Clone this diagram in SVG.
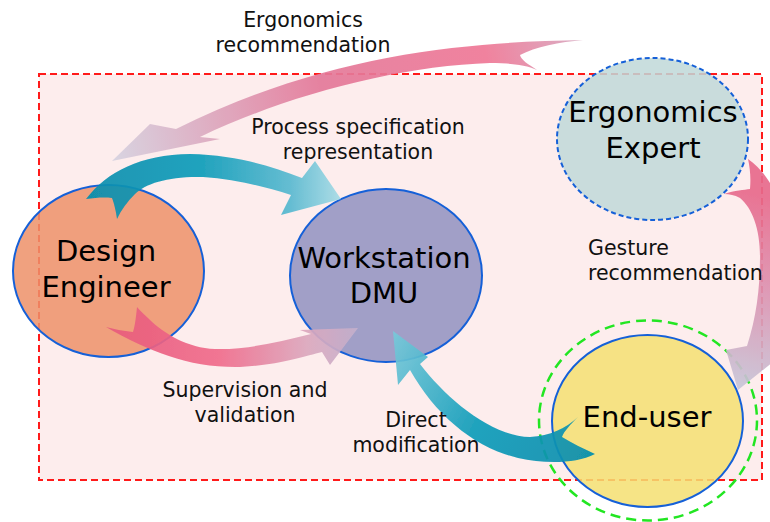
<svg xmlns="http://www.w3.org/2000/svg" width="770" height="522" viewBox="0 0 770 522">
<style>
.lbl{font-family:"DejaVu Sans","Liberation Sans",sans-serif;font-size:20.5px;fill:#111;text-anchor:middle}
.big{font-family:"DejaVu Sans","Liberation Sans",sans-serif;font-size:29px;fill:#000;text-anchor:middle}
.node{stroke:#1560d8;stroke-width:2;fill-opacity:0.86}
.arrow{opacity:0.92;filter:url(#soft)}
</style>
<defs>
<filter id="soft" x="-5%" y="-5%" width="110%" height="110%"><feGaussianBlur stdDeviation="0.6"/></filter>
<linearGradient id="gPink1" gradientUnits="userSpaceOnUse" x1="583" y1="45" x2="113" y2="158">
<stop offset="0" stop-color="#d8a8c0"/><stop offset="0.2" stop-color="#ef7896"/><stop offset="0.55" stop-color="#e47a9a"/><stop offset="1" stop-color="#d6d2e0"/>
</linearGradient>
<linearGradient id="gPink3" gradientUnits="userSpaceOnUse" x1="107" y1="330" x2="357" y2="335">
<stop offset="0" stop-color="#e85a7c"/><stop offset="0.45" stop-color="#f06c8c"/><stop offset="0.8" stop-color="#dca8be"/><stop offset="1" stop-color="#c4b0cc"/>
</linearGradient>
<linearGradient id="gPink5" gradientUnits="userSpaceOnUse" x1="780" y1="200" x2="732" y2="385">
<stop offset="0" stop-color="#e86a8c"/><stop offset="0.5" stop-color="#dc94b2"/><stop offset="1" stop-color="#c8c6d8"/>
</linearGradient>
<linearGradient id="gBlue2" gradientUnits="userSpaceOnUse" x1="90" y1="200" x2="340" y2="197">
<stop offset="0" stop-color="#068eae"/><stop offset="0.45" stop-color="#0f9dba"/><stop offset="0.8" stop-color="#58b9d0"/><stop offset="1" stop-color="#a6dbe6"/>
</linearGradient>
<linearGradient id="gBlue4" gradientUnits="userSpaceOnUse" x1="593" y1="450" x2="393" y2="335">
<stop offset="0" stop-color="#068eae"/><stop offset="0.5" stop-color="#109dba"/><stop offset="1" stop-color="#78c9da"/>
</linearGradient>
</defs>

<rect x="0" y="0" width="770" height="522" fill="#ffffff"/>
<g id="frame">
<rect x="39" y="74" width="723" height="406" fill="#fdeded" stroke="#ff1a1a" stroke-width="2" stroke-dasharray="7,4"/>
</g>

<g id="design-engineer">
<ellipse class="node" cx="108.5" cy="271" rx="95.5" ry="86" fill="#ee926a"/>
<text class="big" x="106" y="261">Design</text>
<text class="big" x="106" y="297">Engineer</text>
</g>
<g id="workstation-dmu">
<ellipse class="node" cx="386" cy="275.5" rx="96" ry="86.5" fill="#9291c0"/>
<text class="big" x="384" y="268">Workstation</text>
<text class="big" x="384" y="303">DMU</text>
</g>
<g id="ergonomics-expert">
<ellipse class="node" cx="652.5" cy="139" rx="95.5" ry="81" fill="#c0d9d9" stroke-dasharray="5,3"/>
<text class="big" x="653" y="122">Ergonomics</text>
<text class="big" x="653" y="158">Expert</text>
</g>
<g id="end-user">
<ellipse cx="648" cy="420.5" rx="109" ry="100" fill="none" stroke="#22e622" stroke-width="2.5" stroke-dasharray="10,6"/>
<ellipse class="node" cx="647.5" cy="421" rx="95.5" ry="86" fill="#f5e072"/>
<text class="big" x="647" y="427">End-user</text>
</g>

<g id="connectors">
<path class="arrow" fill="url(#gPink1)" d="M583,40 C470,42 330,52 176,129 L150,124 L112,161 L220,139 L200,137 C290,94 400,66 490,63 C510,63 526,65 537,70 C528,64 521,60 520,55 C535,47 560,42 583,40 Z"/>
<path class="arrow" fill="url(#gBlue2)" d="M86,199 C108,171 140,155 190,154 C235,155 272,166 302,178 L315,161 L341,199 L281,215 L291,195 C265,187 235,179 203,177 C170,176 146,183 135,194 C127,202 121,210 117,219 C116,211 114,203 112,198 C103,197 95,198 86,199 Z"/>
<path class="arrow" fill="url(#gPink3)" d="M106,327 C150,352 190,368 240,367 C280,365 305,356 322,352 L330,365 L358,328 L300,330 L311,334 C280,342 245,350 215,349 C188,348 164,334 148,318 C144,314 140,311 137,307 C136,317 135,326 133,332 C123,331 114,329 106,327 Z"/>
<path class="arrow" fill="url(#gBlue4)" d="M393,331 L428,357 L420,364 C446,398 490,436 530,437 C550,436 566,428 578,417 C571,424 564,431 562,437 C572,443 584,449 595,454 C575,464 545,464 518,458 C475,448 436,416 410,370 L398,385 Z"/>
<path class="arrow" fill="url(#gPink5)" d="M748,159 C776,178 792,225 790,265 C788,300 782,335 778,358 L738,390 L726,350 L747,346 C756,318 760,290 760,257 C760,228 752,208 740,198 C734,195 730,194 724,194 C735,190 744,190 750,189 C751,178 750,168 748,159 Z"/>
</g>

<g id="labels">
<text class="lbl" x="303" y="27">Ergonomics</text>
<text class="lbl" x="303" y="52">recommendation</text>
<text class="lbl" x="358" y="134">Process specification</text>
<text class="lbl" x="358" y="159">representation</text>
<text class="lbl" x="588" y="255" style="text-anchor:start">Gesture</text>
<text class="lbl" x="588" y="280" style="text-anchor:start">recommendation</text>
<text class="lbl" x="245" y="397">Supervision and</text>
<text class="lbl" x="245" y="422">validation</text>
<text class="lbl" x="416" y="427">Direct</text>
<text class="lbl" x="416" y="452">modification</text>
</g>
</svg>
